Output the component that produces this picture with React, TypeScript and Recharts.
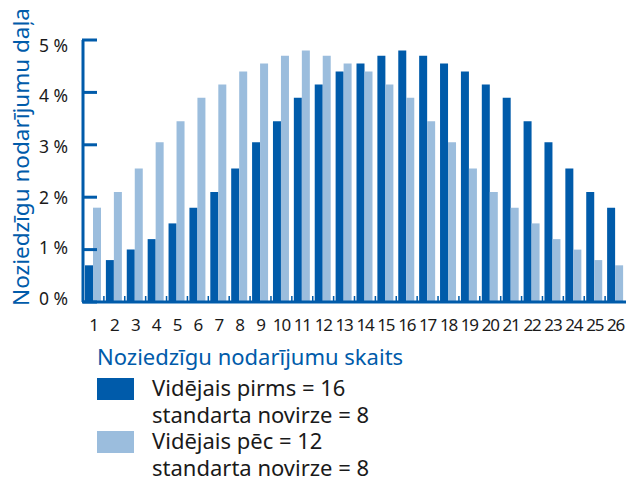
import { BarChart, Bar, XAxis, YAxis } from 'recharts'

const skaits = [
  '1', '2', '3', '4', '5', '6', '7', '8', '9', '10', '11', '12', '13',
  '14', '15', '16', '17', '18', '19', '20', '21', '22', '23', '24', '25', '26',
]
const pirms = [
  0.7, 0.8, 1.0, 1.2, 1.5, 1.8, 2.1, 2.55, 3.05, 3.45, 3.9, 4.15, 4.4,
  4.55, 4.7, 4.8, 4.7, 4.55, 4.4, 4.15, 3.9, 3.45, 3.05, 2.55, 2.1, 1.8,
]
const pec = [
  1.8, 2.1, 2.55, 3.05, 3.45, 3.9, 4.15, 4.4, 4.55, 4.7, 4.8, 4.7, 4.55,
  4.4, 4.15, 3.9, 3.45, 3.05, 2.55, 2.1, 1.8, 1.5, 1.2, 1.0, 0.8, 0.7,
]
const yTicks = [0, 1, 2, 3, 4, 5]
const legendLines = [
  ['Vidējais pirms = 16', 'standarta novirze = 8'],
  ['Vidējais pēc = 12', 'standarta novirze = 8'],
]

const DARK = '#005baa'
const LIGHT = '#9bbddd'
const TEXT = '#1a1a1a'
const FONT = '"Noto Sans", sans-serif'

const chartData = skaits.map((s, i) => ({ skaits: s, pirms: pirms[i], pec: pec[i] }))

// platums vienai kategorijai (plot 83..626)
const BAND = (626 - 83) / skaits.length

function XTick({ x, y, payload, index }: any) {
  return (
    <g>
      {index > 0 && (
        <line x1={x - BAND / 2} x2={x - BAND / 2} y1={y} y2={y - 6} stroke={DARK} strokeWidth={1.5} />
      )}
      <text x={x} y={y + 29} textAnchor="middle" fontSize={17} fill={TEXT} fontFamily={FONT} letterSpacing={-1.2}>
        {payload.value}
      </text>
    </g>
  )
}

function YTick({ x, y, payload }: any) {
  const v = Number(payload.value)
  const dy = -3 + v * 1.7
  return (
    <g>
      <line x1={x - 1} x2={x + 14} y1={y} y2={y} stroke={DARK} strokeWidth={3} />
      <text x={x - 15} y={y + dy + 6} textAnchor="end" fontSize={17.5} fill={TEXT} fontFamily={FONT}>
        {`${v} %`}
      </text>
    </g>
  )
}

export default function App() {
  return (
    <div style={{ position: 'absolute', left: 0, top: 0, width: 630, height: 480, background: '#fff', fontFamily: FONT }}>
      <BarChart
        width={630}
        height={340}
        data={chartData}
        margin={{ top: 40, right: 4, left: 0, bottom: 0 }}
        barGap={0}
      >
        <XAxis
          dataKey="skaits"
          height={38}
          interval={0}
          tickSize={0}
          tickMargin={0}
          tickLine={false}
          axisLine={{ stroke: DARK, strokeWidth: 3 }}
          tick={<XTick />}
        />
        <YAxis
          width={83}
          domain={[0, 5]}
          ticks={yTicks}
          interval={0}
          tickSize={0}
          tickMargin={0}
          tickLine={false}
          axisLine={{ stroke: DARK, strokeWidth: 3 }}
          tick={<YTick />}
          label={{
            content: () => (
              <text
                x={29}
                y={157}
                transform="rotate(-90 29 157)"
                textAnchor="middle"
                fontSize={22.5}
                fill={DARK}
                fontFamily={FONT}
              >
                Noziedzīgu nodarījumu daļa
              </text>
            ),
          }}
        />
        <Bar dataKey="pirms" fill={DARK} barSize={8} isAnimationActive={false} />
        <Bar dataKey="pec" fill={LIGHT} barSize={8} isAnimationActive={false} />
      </BarChart>

      <div style={{ position: 'absolute', left: 97, top: 343, fontSize: 22, lineHeight: '27px', color: DARK }}>
        Noziedzīgu nodarījumu skaits
      </div>
      {legendLines.map((lines, i) => (
        <div key={i} style={{ position: 'absolute', left: 97, top: 374, display: 'flex', transform: `translateY(${i * 53}px)` }}>
          <div style={{ width: 37, height: 22, marginTop: 4, background: i === 0 ? DARK : LIGHT }} />
          <div style={{ marginLeft: 18, fontSize: 22, lineHeight: '26.5px', color: TEXT }}>
            {lines.map((l) => (
              <div key={l}>{l}</div>
            ))}
          </div>
        </div>
      ))}
    </div>
  )
}
